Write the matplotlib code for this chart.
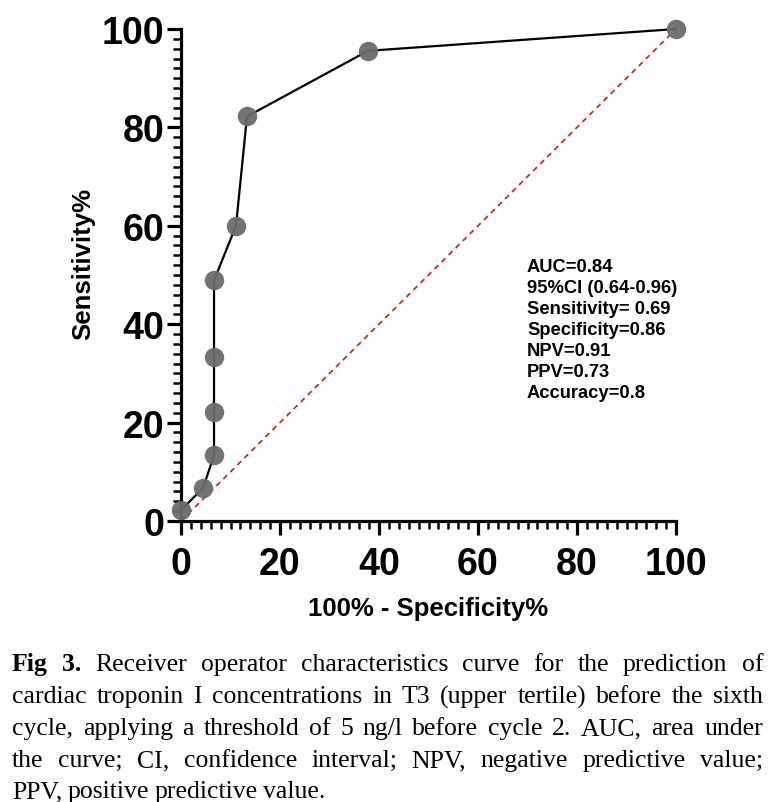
import matplotlib
matplotlib.use("Agg")
import matplotlib.pyplot as plt
from matplotlib.ticker import MultipleLocator

# --- DATA ---
fpr = [0, 4.44, 6.67, 6.67, 6.67, 6.67, 11.11, 13.33, 37.78, 100]
sens = [2.22, 6.67, 13.33, 22.22, 33.33, 48.89, 60.0, 82.22, 95.56, 100]
ref_line = [0, 100]
ticks = [0, 20, 40, 60, 80, 100]

stats = ["AUC=0.84", "95%CI (0.64-0.96)", "Sensitivity= 0.69", "Specificity=0.86",
         "NPV=0.91", "PPV=0.73", "Accuracy=0.8"]

caption_lines = [
    "Fig 3. Receiver operator characteristics curve for the prediction of",
    "cardiac troponin I concentrations in T3 (upper tertile) before the sixth",
    "cycle, applying a threshold of 5 ng/l before cycle 2. AUC, area under",
    "the curve; CI, confidence interval; NPV, negative predictive value;",
    "PPV, positive predictive value.",
]

W, H = 771, 803
fig = plt.figure(figsize=(W / 100, H / 100), dpi=100)
plt.rcParams['font.family'] = ['Liberation Sans', 'DejaVu Sans']

ax = fig.add_axes([181 / W, 1 - 522 / H, (676 - 181) / W, (522 - 30) / H])

# ROC curve + chance line
ax.plot(ref_line, ref_line, color='#e02020', ls=(0, (3, 2.5)), lw=1.3, zorder=2, clip_on=False)
ax.plot(fpr, sens, color='black', lw=1.6, zorder=3, clip_on=False)
ax.plot(fpr, sens, 'o', ms=14, color='#6b6b6b', mec='none', alpha=0.95, zorder=4, clip_on=False)

ax.set_xlim(0, 100)
ax.set_ylim(0, 100)
ax.set_xticks(ticks)
ax.set_yticks(ticks)
ax.xaxis.set_minor_locator(MultipleLocator(2))
ax.yaxis.set_minor_locator(MultipleLocator(2))

for s in ['top', 'right']:
    ax.spines[s].set_visible(False)
for s in ['left', 'bottom']:
    ax.spines[s].set_linewidth(2.3)

ax.tick_params(which='major', direction='out', length=10, width=2.3, labelsize=27)
ax.tick_params(which='minor', direction='out', length=5.5, width=1.8)
ax.tick_params(axis='x', which='major', pad=8)
ax.tick_params(axis='y', which='major', pad=2)
for lab in ax.get_xticklabels() + ax.get_yticklabels():
    lab.set_fontweight('bold')

ax.set_xlabel("100% - Specificity%", fontsize=18.5, fontweight='bold', labelpad=10)
ax.set_ylabel("Sensitivity%", fontsize=18.5, fontweight='bold')
ax.yaxis.set_label_coords(-0.174, 0.525)

ax.text(0.699, 0.535, "\n".join(stats), transform=ax.transAxes, fontsize=13.2,
        fontweight='bold', va='top', ha='left', linespacing=1.31)

# --- caption, justified word by word ---
renderer = fig.canvas.get_renderer()
left, right = 12 / W, 763 / W
centers = [665, 697, 729, 761, 792]
cap_size = 18.5
for i, line in enumerate(caption_lines):
    words = line.split(" ")
    y = 1 - centers[i] / H
    arts = []
    for j, w in enumerate(words):
        bold = (i == 0 and j < 2)
        t = fig.text(0, y, w, fontsize=cap_size, family=['Liberation Serif', 'DejaVu Serif'],
                     fontweight='bold' if bold else 'normal', va='center', ha='left')
        arts.append(t)
    widths = [t.get_window_extent(renderer).width / W for t in arts]
    if i < len(caption_lines) - 1:
        gap = (right - left - sum(widths)) / (len(words) - 1)
    else:
        gap = 5.5 / W
    x = left
    for t, wd in zip(arts, widths):
        t.set_x(x)
        x += wd + gap

fig.savefig("out.png", dpi=100)
